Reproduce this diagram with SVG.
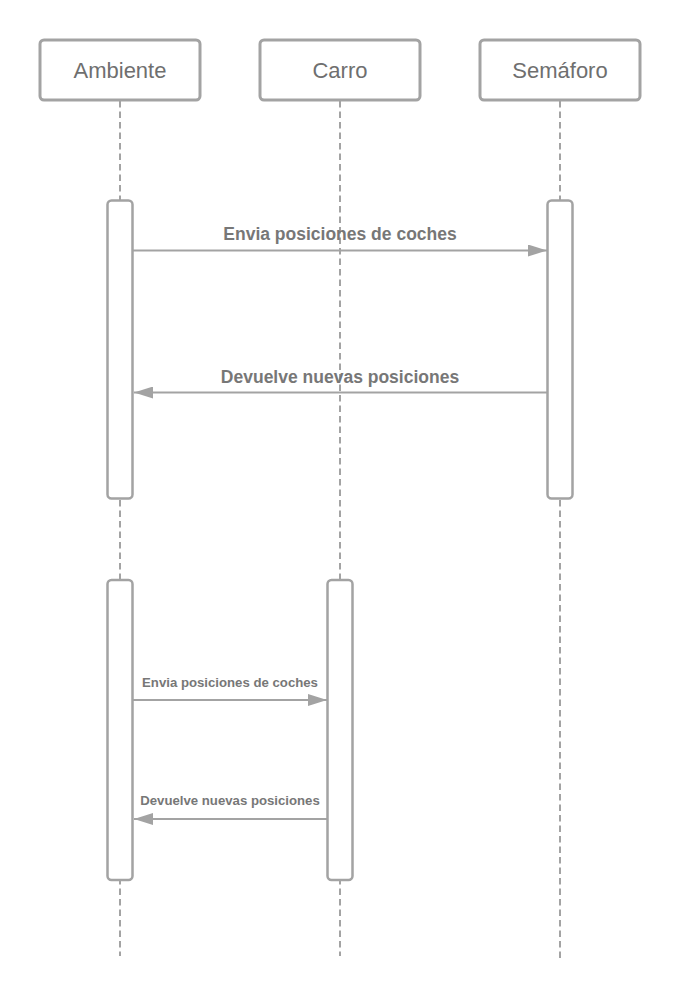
<svg xmlns="http://www.w3.org/2000/svg" width="680" height="1000" viewBox="0 0 680 1000">
<style>
.actor{fill:#fff;stroke:#a3a3a3;stroke-width:3}
.actor-t{font-family:"Liberation Sans",Arial,sans-serif;font-size:22px;fill:#6f6f6f;text-anchor:middle}
.life{stroke:#a3a3a3;stroke-width:2;stroke-dasharray:6.5 4;fill:none}
.act{fill:#fff;stroke:#a3a3a3;stroke-width:2.5}
.msg{stroke:#a3a3a3;stroke-width:2;fill:none}
.lbl{font-family:"Liberation Sans",Arial,sans-serif;font-weight:bold;fill:#777;text-anchor:middle}
</style>
<defs>
<marker id="ah" markerWidth="19" markerHeight="12" refX="19" refY="6" orient="auto" markerUnits="userSpaceOnUse">
<path d="M0,0 L19,6 L0,12 Z" fill="#a3a3a3"/>
</marker>
</defs>
<rect width="680" height="1000" fill="#fff"/>
<g id="lifelines">
<line class="life" x1="120" y1="101" x2="120" y2="956"/>
<line class="life" x1="340" y1="101" x2="340" y2="956"/>
<line class="life" x1="560" y1="101" x2="560" y2="959"/>
</g>
<g id="actor-ambiente"><rect class="actor" x="40" y="40" width="160" height="60" rx="4"/><text class="actor-t" x="120" y="78">Ambiente</text></g>
<g id="actor-carro"><rect class="actor" x="260" y="40" width="160" height="60" rx="4"/><text class="actor-t" x="340" y="78">Carro</text></g>
<g id="actor-semaforo"><rect class="actor" x="480" y="40" width="160" height="60" rx="4"/><text class="actor-t" x="560" y="78">Semáforo</text></g>
<g id="act-ambiente-1"><rect class="act" x="107.5" y="200.5" width="25" height="298" rx="4"/></g>
<g id="act-semaforo-1"><rect class="act" x="547.5" y="200.5" width="25" height="298" rx="4"/></g>
<g id="act-ambiente-2"><rect class="act" x="107.5" y="580" width="25" height="300" rx="4"/></g>
<g id="act-carro-2"><rect class="act" x="327.5" y="580" width="25" height="300" rx="4"/></g>
<g id="connectors">
<line class="msg" x1="133" y1="250.5" x2="547" y2="250.5" marker-end="url(#ah)"/>
<text class="lbl" x="340" y="240" font-size="17.5">Envia posiciones de coches</text>
<line class="msg" x1="547" y1="392.5" x2="134" y2="392.5" marker-end="url(#ah)"/>
<text class="lbl" x="340" y="383" font-size="17.5">Devuelve nuevas posiciones</text>
<line class="msg" x1="133" y1="700" x2="327" y2="700" marker-end="url(#ah)"/>
<text class="lbl" x="230" y="686.5" font-size="13.2">Envia posiciones de coches</text>
<line class="msg" x1="327" y1="819" x2="134" y2="819" marker-end="url(#ah)"/>
<text class="lbl" x="230" y="805" font-size="13.2">Devuelve nuevas posiciones</text>
</g>
</svg>
